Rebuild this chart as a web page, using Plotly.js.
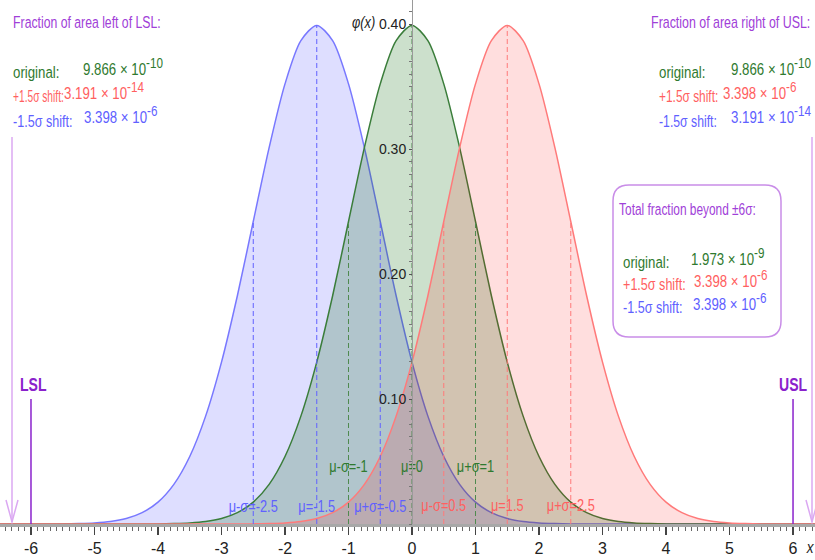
<!DOCTYPE html>
<html><head><meta charset="utf-8">
<script src="https://cdn.plot.ly/plotly-3.0.1.min.js"></script>
<style>html,body{margin:0;padding:0;background:#fff;}#chart{width:815px;height:560px;}
#chart text.annotation-text{transform-box:fill-box;transform-origin:0 50%;}
#chart .textpoint text{transform-box:fill-box;transform-origin:50% 50%;transform:scaleX(0.8);}
</style>
<style id="annscale"></style>
</head><body><div id="chart"></div>
<script>
// ---- data ----
var xGrid = [-6.5,-6.25,-6,-5.75,-5.5,-5.25,-5,-4.75,-4.5,-4.25,-4,-3.75,-3.5,-3.25,-3,-2.75,-2.5,-2.25,-2,-1.75,-1.5,-1.25,-1,-0.75,-0.5,-0.25,0,0.25,0.5,0.75,1,1.25,1.5,1.75,2,2.25,2.5,2.75,3,3.25,3.5,3.75,4,4.25,4.5,4.75,5,5.25,5.5,5.75,6,6.25,6.5];
var greenY = [0,0,0,0,0,0,0,0,0,0,0.0001,0.0004,0.0009,0.0020,0.0044,0.0091,0.0175,0.0317,0.0540,0.0863,0.1295,0.1826,0.2420,0.3011,0.3521,0.3867,0.3989,0.3867,0.3521,0.3011,0.2420,0.1826,0.1295,0.0863,0.0540,0.0317,0.0175,0.0091,0.0044,0.0020,0.0009,0.0004,0.0001,0,0,0,0,0,0,0,0,0,0];
var blueY = [0,0,0,0,0.0001,0.0004,0.0009,0.0020,0.0044,0.0091,0.0175,0.0317,0.0540,0.0863,0.1295,0.1826,0.2420,0.3011,0.3521,0.3867,0.3989,0.3867,0.3521,0.3011,0.2420,0.1826,0.1295,0.0863,0.0540,0.0317,0.0175,0.0091,0.0044,0.0020,0.0009,0.0004,0.0001,0,0,0,0,0,0,0,0,0,0,0,0,0,0,0,0];
var redY = [0,0,0,0,0,0,0,0,0,0,0,0,0,0,0,0,0.0001,0.0004,0.0009,0.0020,0.0044,0.0091,0.0175,0.0317,0.0540,0.0863,0.1295,0.1826,0.2420,0.3011,0.3521,0.3867,0.3989,0.3867,0.3521,0.3011,0.2420,0.1826,0.1295,0.0863,0.0540,0.0317,0.0175,0.0091,0.0044,0.0020,0.0009,0.0004,0.0001,0,0,0,0];

var blueMarkX = [-2.5,-1.5,-0.5];
var blueMarkY = [0.2420,0.3989,0.2420];
var blueMarkText = ["μ-σ=-2.5","μ=-1.5","μ+σ=-0.5"];
var greenMarkX = [-1,0,1];
var greenMarkY = [0.2420,0.3989,0.2420];
var greenMarkText = ["μ-σ=-1","μ=0","μ+σ=1"];
var redMarkX = [0.5,1.5,2.5];
var redMarkY = [0.2420,0.3989,0.2420];
var redMarkText = ["μ-σ=0.5","μ=1.5","μ+σ=2.5"];

var specX = [-6, 6];
var specLabels = ["LSL","USL"];
var specLineTop = 0.1;

var xTickVals = [-6,-5,-4,-3,-2,-1,0,1,2,3,4,5,6];
var xTickText = ["-6","-5","-4","-3","-2","-1","0","1","2","3","4","5","6"];
var yTickVals = [0.1,0.2,0.3,0.4];
var yTickText = ["0.10","0.20","0.30","0.40"];

// ---- styling ----
var FONT = "'Liberation Sans',Arial,sans-serif";
var BLUE = "#7878ff", GREEN = "#3a7d3a", RED = "#ff7a7a";
var BLUE_T = "#6060ff", GREEN_T = "#2f7a2f", RED_T = "#ff6060";
var PURPLE = "#a040d8", PURPLE_D = "#8a22cc", PURPLE_L = "#dba8f2";

function segs(xs, ys){
  var X=[],Y=[];
  for(var i=0;i<xs.length;i++){X.push(xs[i],xs[i],null);Y.push(0,ys[i],null);}
  return {x:X,y:Y};
}
function curve(y, line, fill){
  return {x:xGrid, y:y, type:'scatter', mode:'lines', fill:'tozeroy', fillcolor:fill,
    line:{color:line,width:1.5,shape:'spline',smoothing:0.8}, hoverinfo:'skip'};
}
function dashes(xs, ys, col){
  var s = segs(xs, ys);
  return {x:s.x, y:s.y, type:'scatter', mode:'lines', line:{color:col,width:1,dash:'5px,3px'}, hoverinfo:'skip'};
}
function labels(xs, level, txt, col){
  return {x:xs, y:xs.map(function(){return level;}), text:txt, type:'scatter', mode:'text',
    textposition:'middle center', textfont:{family:FONT,size:16,color:col}, hoverinfo:'skip'};
}

var traces = [
  curve(blueY, BLUE, 'rgba(0,0,255,0.13)'),
  curve(greenY, GREEN, 'rgba(0,100,0,0.2)'),
  curve(redY, RED, 'rgba(255,0,0,0.13)'),
  dashes(blueMarkX, blueMarkY, BLUE_T),
  dashes(greenMarkX, greenMarkY, '#4f8a4f'),
  dashes(redMarkX, redMarkY, RED),
  labels(blueMarkX, 0.0128, blueMarkText, BLUE_T),
  labels(greenMarkX, 0.0448, greenMarkText, GREEN_T),
  labels(redMarkX, 0.0136, redMarkText, RED_T)
];

// pixel -> paper helpers (plot area = 815 x 524)
function PX(p){return p/815;}
function PY(p){return (524-p)/524;}

var ann = [], scales = [];
function sup(s){return '<sup><span style="font-size:15px">'+s+'</span></sup>';}
function txt(x, y, s, col, sc, size){
  ann.push({xref:'paper', yref:'paper', x:PX(x), y:PY(y), xanchor:'left', yanchor:'middle', text:s, showarrow:false,
    font:{family:FONT, size:size||17, color:col}});
  scales.push(sc||0.78);
}
// left block
txt(11, 22, "Fraction of area left of LSL:", PURPLE, 0.72);
txt(11, 72, "original:", GREEN_T); txt(81, 66, "9.866 × 10"+sup("-10"), GREEN_T);
txt(11, 97, "+1.5σ shift:", RED_T, 0.6); txt(62, 91, "3.191 × 10"+sup("-14"), RED_T);
txt(11, 121, "-1.5σ shift:", BLUE_T, 0.74); txt(82, 115, "3.398 × 10"+sup("-6"), BLUE_T);
// right block
txt(649, 22, "Fraction of area right of USL:", PURPLE, 0.73);
txt(657, 72, "original:", GREEN_T); txt(729, 66, "9.866 × 10"+sup("-10"), GREEN_T);
txt(657, 97, "+1.5σ shift:", RED_T, 0.7); txt(721, 91, "3.398 × 10"+sup("-6"), RED_T);
txt(657, 121, "-1.5σ shift:", BLUE_T, 0.72); txt(729, 115, "3.191 × 10"+sup("-14"), BLUE_T);
// box block
txt(617, 210, "Total fraction beyond ±6σ:", PURPLE, 0.7);
txt(621, 262, "original:", GREEN_T); txt(689, 256, "1.973 × 10"+sup("-9"), GREEN_T);
txt(621, 284, "+1.5σ shift:", RED_T, 0.74); txt(692, 278, "3.398 × 10"+sup("-6"), RED_T);
txt(621, 307, "-1.5σ shift:", BLUE_T, 0.74); txt(691, 301, "3.398 × 10"+sup("-6"), BLUE_T);
// phi(x) label and x title
txt(350, 23, "<i>φ(x)</i>", '#222', 0.75, 17);
txt(804, 547, "<i>x</i>", '#222', 0.8, 17);
// LSL / USL labels
var shifts = [-13, -16];
for (var i=0;i<specX.length;i++){
  ann.push({xref:'x', yref:'paper', x:specX[i], y:PY(385), xanchor:'left', yanchor:'middle', xshift:shifts[i],
    text:'<b>'+specLabels[i]+'</b>', showarrow:false, font:{family:FONT,size:18,color:PURPLE_D}});
  scales.push(0.78);
}
var css = '';
for (var k=0;k<scales.length;k++){
  css += '#chart g.annotation[data-index="'+k+'"] text.annotation-text{transform:scaleX('+scales[k]+');}\n';
}
document.getElementById('annscale').textContent = css;

var shapes = [];
for (var j=0;j<specX.length;j++){
  shapes.push({type:'line', xref:'x', yref:'y', x0:specX[j], x1:specX[j], y0:0, y1:specLineTop, line:{color:PURPLE_D,width:1.5}});
}
// arrows at the outer edges
function arrow(xp){
  shapes.push({type:'line', xref:'paper', yref:'paper', x0:PX(xp), x1:PX(xp), y0:PY(137), y1:PY(522), line:{color:PURPLE_L,width:1.5}});
  shapes.push({type:'path', xref:'paper', yref:'paper',
    path:'M'+PX(xp-6)+','+PY(500)+' L'+PX(xp)+','+PY(522)+' L'+PX(xp+6)+','+PY(500),
    line:{color:PURPLE_L,width:1.5}});
}
arrow(12); arrow(812);
// rounded box
(function(){
  var x0=PX(613), x1=PX(781), y0=PY(185), y1=PY(337), rx=PX(16), ry=16/524;
  var p = 'M'+(x0+rx)+','+y0+' L'+(x1-rx)+','+y0+' Q'+x1+','+y0+' '+x1+','+(y0-ry)+
          ' L'+x1+','+(y1+ry)+' Q'+x1+','+y1+' '+(x1-rx)+','+y1+
          ' L'+(x0+rx)+','+y1+' Q'+x0+','+y1+' '+x0+','+(y1+ry)+
          ' L'+x0+','+(y0-ry)+' Q'+x0+','+y0+' '+(x0+rx)+','+y0+' Z';
  shapes.push({type:'path', xref:'paper', yref:'paper', path:p, line:{color:'#c98de8',width:1.5}, fillcolor:'rgba(255,255,255,0)'});
})();

var layout = {
  width:815, height:560,
  margin:{l:0,r:0,t:0,b:36},
  paper_bgcolor:'#fff', plot_bgcolor:'rgba(0,0,0,0)',
  showlegend:false,
  font:{family:FONT, color:'#222'},
  xaxis:{range:[-6.488,6.346], domain:[0,1], showgrid:false, zeroline:false,
    showline:true, linecolor:'#a8a8a8', linewidth:3,
    tickmode:'array', tickvals:xTickVals, ticktext:xTickText,
    ticks:'outside', ticklen:8, tickwidth:1.2, tickcolor:'#444',
    minor:{tickmode:'linear', tick0:0, dtick:0.1, ticks:'outside', ticklen:4, tickcolor:'#666', tickwidth:1, showgrid:false},
    tickfont:{family:FONT,size:16,color:'#222'}, fixedrange:true},
  yaxis:{range:[0,0.4192], anchor:'free', position:PX(412), showgrid:false, zeroline:false,
    showline:true, linecolor:'#9a9a9a', linewidth:1,
    tickmode:'array', tickvals:yTickVals, ticktext:yTickText,
    ticks:'outside', ticklen:3, tickwidth:1, tickcolor:'#555',
    minor:{tickmode:'linear', tick0:0, dtick:0.01, ticks:'outside', ticklen:3, tickcolor:'#777', showgrid:false},
    tickfont:{family:FONT,size:14,color:'#222'}, fixedrange:true},
  annotations:ann,
  shapes:shapes
};
Plotly.newPlot('chart', traces, layout, {displayModeBar:false, staticPlot:true});
</script></body></html>
